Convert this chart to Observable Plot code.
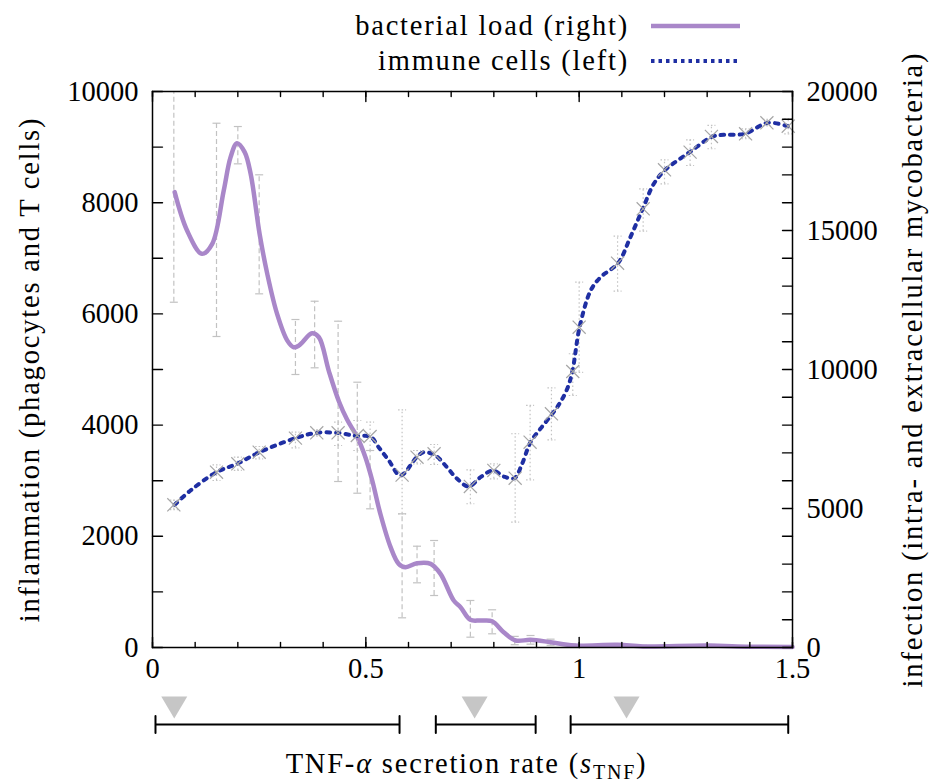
<!DOCTYPE html>
<html><head><meta charset="utf-8">
<script src="https://cdn.jsdelivr.net/npm/d3@7"></script>
<script src="https://cdn.jsdelivr.net/npm/@observablehq/plot@0.6"></script>
<style>
body{margin:0;background:#fff;}
#legend{height:80px;}
</style></head><body>
<div id="legend"></div>
<div id="chart"></div>
<script>
// ---------- data ----------
// bacterial load curve (right axis, 0-20000)
const bactCurveX = [0.052,0.081,0.116,0.14,0.167,0.183,0.198,0.216,0.23,0.251,0.269,0.292,0.316,0.331,0.343,0.374,0.39,0.413,0.437,0.456,0.48,0.499,0.515,0.534,0.558,0.577,0.593,0.62,0.652,0.675,0.706,0.722,0.745,0.769,0.796,0.823,0.851,0.886,0.933,0.988,1.09,1.15,1.3,1.4,1.5];
const bactCurveV = [16380,15000,14160,14520,16440,17640,18140,17820,17040,14880,13440,12000,11040,10800,10860,11300,11160,9960,8850,8200,7565,6846,6007,4810,3610,3010,2890,3030,3010,2650,1690,1450,996,971,946,550,252,277,191,72,100,36,70,30,20];
// bacterial load data points with error bars
const bactX  = [0.05,0.15,0.2,0.25,0.335,0.38,0.435,0.48,0.51,0.585,0.62,0.66,0.745,0.796,0.849,0.886,0.933,0.983,1.09,1.15,1.2,1.26,1.31,1.39,1.44,1.49];
const bactLo = [12420,11187,17398,12722,9820,10061,5971,5550,4989,1068,2327,1870,371,493,100,120,80,20,20,0,0,0,10,0,0,0];
const bactHi = [20400,18859,18740,17003,11798,12456,11737,9543,7086,4809,3644,3849,1691,1356,400,432,300,130,140,80,60,80,110,40,40,20];
// immune cells curve (left axis, 0-10000)
const immCurveX = [0.052,0.089,0.15,0.198,0.251,0.335,0.384,0.437,0.476,0.511,0.53,0.554,0.581,0.62,0.636,0.663,0.69,0.714,0.741,0.769,0.798,0.823,0.848,0.866,0.886,0.909,0.937,0.956,0.972,0.984,1.001,1.027,1.05,1.091,1.12,1.149,1.175,1.202,1.259,1.313,1.339,1.388,1.442,1.489];
const immCurveV = [2566,2824,3153,3304,3513,3765,3861,3858,3805,3790,3603,3363,3094,3430,3513,3453,3243,3034,2896,3063,3184,3076,3045,3300,3693,3933,4203,4412,4653,4964,5761,6421,6660,6912,7380,7890,8340,8592,8909,9191,9221,9239,9437,9376];
// immune cells data points with error bars
const immX  = [0.05,0.15,0.2,0.25,0.335,0.385,0.435,0.48,0.51,0.585,0.62,0.66,0.745,0.8,0.85,0.885,0.935,0.985,1.0,1.09,1.15,1.2,1.26,1.31,1.39,1.44,1.49];
const immV  = [2566,3153,3304,3513,3765,3861,3861,3813,3795,3100,3423,3484,2896,3184,3045,3693,4203,4964,5761,6912,7890,8592,8909,9191,9239,9437,9376];
const immLo = [2480,3004,3184,3394,3592,3800,3633,3543,3543,2405,3304,3291,2585,3034,2254,3016,3736,4532,4950,6408,7488,8340,8669,8970,9150,9380,9239];
const immHi = [2650,3286,3423,3615,3873,3920,4052,4083,4052,4275,3543,3651,3196,3304,3844,4353,4671,5283,6570,7398,8250,8772,9131,9389,9330,9500,9509];
// regimes below the axis
const regimeStart = [0.007,0.664,0.98];
const regimeEnd   = [0.579,0.898,1.49];
const regimeMark  = [0.051,0.755,1.111];
// ticks
const xTicks = [0,0.5,1,1.5];
const xMinorTicks = [0,0.1,0.2,0.3,0.4,0.5,0.6,0.7,0.8,0.9,1,1.1,1.2,1.3,1.4,1.5];
const leftTicks = [0,2000,4000,6000,8000,10000];
const leftMinorTicks = [0,1000,2000,3000,4000,5000,6000,7000,8000,9000,10000];
const rightTicks = [0,5000,10000,15000,20000];
const rightMinorTicks = [0,1000,2000,3000,4000,5000,6000,7000,8000,9000,10000,11000,12000,13000,14000,15000,16000,17000,18000,19000,20000];
// texts
const legendLabels = ["bacterial load (right)", "immune cells (left)"];
const yLeftLabel = "inflammation (phagocytes and T cells)";
const yRightLabel = "infection (intra- and extracellular mycobacteria)";
const xLabel = "TNF-α secretion rate (sTNF)";

// ---------- build tables ----------
const bactCurve = bactCurveX.map((x,i)=>({x, v: bactCurveV[i]}));
const immCurve = immCurveX.map((x,i)=>({x, v: immCurveV[i]}));
const bactPts = bactX.map((x,i)=>({x, lo: bactLo[i], hi: bactHi[i]}));
const immPts = immX.map((x,i)=>({x, v: immV[i], lo: immLo[i], hi: immHi[i]}));
const regimes = regimeStart.map((a,i)=>({a, b: regimeEnd[i]}));
const regimeCaps = regimeStart.concat(regimeEnd);

const R = v => v / 2; // right axis (0-20000) onto the left scale (0-10000)

// ---------- styles ----------
const FONT = "'Liberation Serif', 'Times New Roman', serif";
const PURPLE = "#a987c9";
const BLUE = "#1f2fa3";
const BAR = "#c2c2c2";
const tickLine = {draw(ctx, l){ ctx.moveTo(0,0); ctx.lineTo(0,-l); }};
const capSym = {draw(ctx){ ctx.moveTo(-4,0); ctx.lineTo(4,0); }};
const downTri = {draw(ctx){ ctx.moveTo(-13,-11); ctx.lineTo(13,-11); ctx.lineTo(0,11); ctx.closePath(); }};
const tk = {stroke: "black", strokeWidth: 1.4, anchor: "start", shape: tickLine};

const chart = Plot.plot({
  width: 934, height: 701,
  marginTop: 11, marginBottom: 134, marginLeft: 152, marginRight: 142,
  style: `font-family: ${FONT}; font-size: 28.5px; background: white; overflow: visible;`,
  x: {domain: [0, 1.5]},
  y: {domain: [0, 10000]},
  marks: [
    // bacterial error bars
    Plot.ruleX(bactPts, {x: "x", y1: d=>R(d.lo), y2: d=>R(d.hi), stroke: BAR, strokeWidth: 1.2, strokeDasharray: "5,3", clip: true}),
    Plot.dot(bactPts, {x: "x", y: d=>R(d.lo), symbol: capSym, stroke: BAR, fill: "none", strokeWidth: 1.2, clip: true}),
    Plot.dot(bactPts, {x: "x", y: d=>R(d.hi), symbol: capSym, stroke: BAR, fill: "none", strokeWidth: 1.2, clip: true}),
    Plot.line(bactCurve, {x: "x", y: d=>R(d.v), stroke: PURPLE, strokeWidth: 4.5, curve: "catmull-rom"}),
    // immune error bars
    Plot.ruleX(immPts, {x: "x", y1: "lo", y2: "hi", stroke: BAR, strokeWidth: 1.2, strokeDasharray: "1.5,2.5"}),
    Plot.dot(immPts, {x: "x", y: "lo", symbol: capSym, stroke: BAR, fill: "none", strokeWidth: 1.2, strokeDasharray: "1.5,2"}),
    Plot.dot(immPts, {x: "x", y: "hi", symbol: capSym, stroke: BAR, fill: "none", strokeWidth: 1.2, strokeDasharray: "1.5,2"}),
    Plot.line(immCurve, {x: "x", y: "v", stroke: BLUE, strokeWidth: 4, strokeDasharray: "3.5,6", curve: "catmull-rom"}),
    Plot.dot(immPts, {x: "x", y: "v", symbol: "times", r: 6, stroke: "#a6a6a6", strokeWidth: 1.2}),
    // frame and inward ticks
    Plot.frame({stroke: "black", strokeWidth: 1.5}),
    Plot.vector(leftMinorTicks, {...tk, y: d=>d, frameAnchor: "left", rotate: 90, length: 10}),
    Plot.vector(rightMinorTicks, {...tk, y: d=>R(d), frameAnchor: "right", rotate: -90, length: 10}),
    Plot.vector(xMinorTicks, {...tk, x: d=>d, frameAnchor: "bottom", rotate: 0, length: 5}),
    Plot.vector(xTicks, {...tk, x: d=>d, frameAnchor: "bottom", rotate: 0, length: 10}),
    Plot.vector(xMinorTicks, {...tk, x: d=>d, frameAnchor: "top", rotate: 180, length: 5}),
    Plot.vector(xTicks, {...tk, x: d=>d, frameAnchor: "top", rotate: 180, length: 10}),
    // tick labels
    Plot.axisY(leftTicks, {anchor: "left", tickSize: 0, tickPadding: 14, tickFormat: d=>String(d), label: null}),
    Plot.axisY(rightTicks.map(R), {anchor: "right", tickSize: 0, tickPadding: 14, tickFormat: d=>String(d*2), label: null}),
    Plot.axisX(xTicks, {anchor: "bottom", tickSize: 0, tickPadding: 10, tickFormat: d=>String(d), label: null}),
    // axis titles
    Plot.text([yLeftLabel], {text: d=>d, frameAnchor: "left", textAnchor: "middle", lineAnchor: "middle", dx: -123, rotate: -90}),
    Plot.text([yRightLabel], {text: d=>d, frameAnchor: "right", textAnchor: "middle", lineAnchor: "middle", dx: 120, rotate: -90}),
    Plot.text([xLabel], {text: d=>d, frameAnchor: "bottom", textAnchor: "middle", lineAnchor: "middle", dy: 116, dx: -6}),
    // regimes below the axis
    Plot.dot(regimeMark, {x: d=>d, y: 0, dy: 60, symbol: downTri, fill: "#c6c6c6", stroke: "none"}),
    Plot.link(regimes, {x1: "a", x2: "b", y1: 0, y2: 0, dy: 77, stroke: "black", strokeWidth: 2}),
    Plot.vector(regimeCaps, {x: d=>d, y: 0, dy: 77, length: 17, anchor: "middle", shape: tickLine, stroke: "black", strokeWidth: 2})
  ]
});
document.getElementById("chart").appendChild(chart);

// letter-spacing for titles (Computer Modern is wider than Times)
const titleTexts = d3.select(chart).selectAll("text")
  .filter(function(){ return [yLeftLabel, yRightLabel, xLabel].includes(this.textContent); });
titleTexts.style("letter-spacing", "1.8px").style("font-family", FONT);

// rich x-axis title (italic alpha, subscript TNF)
const xt = d3.select(chart).selectAll("text").filter(function(){ return this.textContent === xLabel; });
xt.text(null);
xt.append("tspan").text("TNF-");
xt.append("tspan").attr("font-style", "italic").text("α");
xt.append("tspan").text(" secretion rate (");
xt.append("tspan").attr("font-style", "italic").text("s");
xt.append("tspan").attr("font-size", "20px").attr("dy", "6").text("TNF");
xt.append("tspan").attr("dy", "-6").text(")");

// legend above the chart
const lg = d3.select("#legend").append("svg").attr("width", 934).attr("height", 80)
  .style("font-family", FONT).style("font-size", "28.5px").style("letter-spacing", "1.8px");
const legendStyles = [
  {stroke: PURPLE, width: 4.5, dash: null, y: 26},
  {stroke: BLUE, width: 4, dash: "3.5,4", y: 61}
];
legendLabels.forEach((t, i) => {
  const s = legendStyles[i];
  lg.append("text").attr("x", 629).attr("y", s.y).attr("dy", "0.32em").attr("text-anchor", "end").text(t);
  lg.append("line").attr("x1", 651).attr("x2", 740).attr("y1", s.y).attr("y2", s.y)
    .attr("stroke", s.stroke).attr("stroke-width", s.width).attr("stroke-dasharray", s.dash);
});
</script>
</body></html>
